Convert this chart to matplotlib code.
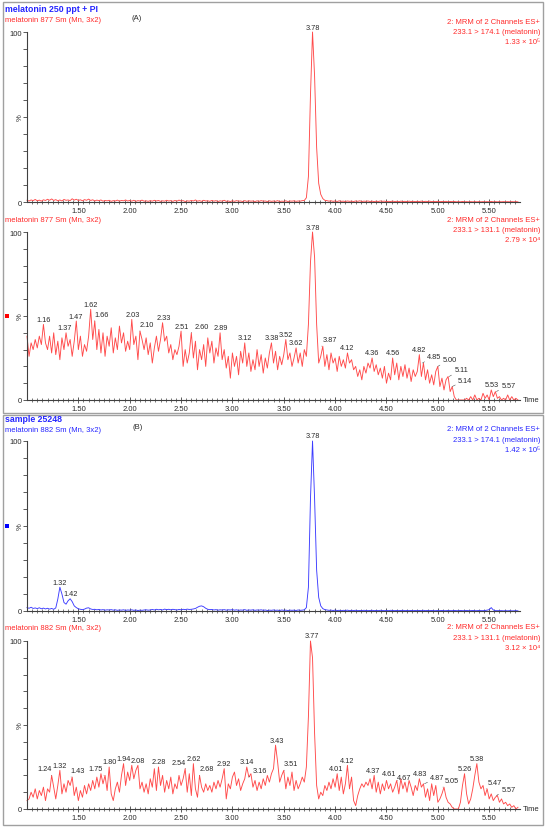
import numpy as np
import matplotlib
matplotlib.use('Agg')
import matplotlib.pyplot as plt
from matplotlib.patches import Rectangle

plt.rcParams['font.family'] = ['Liberation Sans', 'DejaVu Sans']

W, H = 550, 829

# retention time grid (min)
time = np.round(1.00 + 0.02 * np.arange(240), 2)

# (A) melatonin 250 ppt + PI, 233.1 > 174.1
a_174 = [
    1.0, 0.6, 1.2, 0.8, 1.5, 0.7, 1.1, 0.5, 1.3, 0.9,
    1.6, 1.0, 1.8, 0.9, 1.4, 0.7, 1.2, 0.6, 1.5, 1.0,
    1.2, 0.8, 1.9, 1.1, 1.6, 0.9, 1.3, 0.7, 1.4, 1.0,
    1.7, 0.9, 1.3, 0.6, 1.1, 0.8, 1.2, 0.5, 0.9, 0.7,
    1.0, 0.4, 0.8, 0.6, 1.1, 0.5, 0.9, 0.7, 1.2, 0.6,
    0.9, 0.5, 1.0, 0.4, 0.8, 0.6, 1.1, 0.5, 0.7, 0.4,
    0.8, 0.5, 1.0, 0.6, 0.9, 0.4, 0.7, 0.5, 1.0, 0.6,
    0.8, 0.4, 0.9, 0.5, 1.1, 0.6, 0.8, 0.3, 0.7, 0.5,
    0.9, 0.6, 1.2, 0.5, 0.8, 0.4, 1.0, 0.6, 0.7, 0.4,
    0.9, 0.5, 0.8, 0.3, 0.7, 0.5, 1.0, 0.4, 0.6, 0.3,
    0.7, 0.4, 0.8, 0.5, 0.6, 0.3, 0.8, 0.4, 0.7, 0.5,
    0.6, 0.3, 0.7, 0.4, 0.8, 0.5, 0.6, 0.3, 0.7, 0.4,
    0.6, 0.4, 0.8, 0.3, 0.5, 0.4, 0.7, 0.3, 0.6, 0.5,
    0.7, 0.4, 0.6, 0.5, 0.8, 0.9, 2.5, 15.0, 63.0, 100.0,
    74.0, 32.0, 11.0, 4.5, 2.0, 1.0, 0.8, 0.5, 0.7, 0.4,
    0.6, 0.3, 0.7, 0.4, 0.5, 0.3, 0.6, 0.4, 0.5, 0.3,
    0.6, 0.4, 0.7, 0.3, 0.5, 0.4, 0.6, 0.3, 0.5, 0.2,
    0.5, 0.3, 0.6, 0.4, 0.5, 0.2, 0.4, 0.3, 0.5, 0.3,
    0.4, 0.2, 0.5, 0.3, 0.4, 0.2, 0.5, 0.3, 0.4, 0.2,
    0.4, 0.3, 0.5, 0.2, 0.4, 0.3, 0.5, 0.2, 0.3, 0.2,
    0.4, 0.2, 0.3, 0.2, 0.4, 0.1, 0.3, 0.2, 0.3, 0.1,
    0.2, 0.1, 0.3, 0.1, 0.2, 0.1, 0.2, 0.1, 0.2, 0.1,
    0.2, 0.1, 0.2, 0.1, 0.2, 0.1, 0.3, 0.1, 0.2, 0.1,
    0.2, 0.1, 0.2, 0.1, 0.2, 0.1, 0.2, 0.1, 0.2, 0.1,
]

# (A) 233.1 > 131.1
a_131 = [
    38, 26, 34, 30, 36, 31, 38, 33, 45, 34,
    30, 38, 28, 40, 27, 35, 24, 37, 30, 40,
    32, 36, 26, 35, 47, 30, 38, 26, 33, 29,
    38, 54, 36, 47, 30, 42, 28, 40, 26, 38,
    32, 43, 28, 37, 30, 44, 34, 40, 29, 35,
    30, 48, 33, 38, 24, 41, 36, 30, 37, 27,
    34, 22, 31, 38, 29, 36, 46, 35, 38, 28,
    33, 24, 30, 27, 32, 41, 20, 30, 22, 28,
    40, 25, 35, 18, 30, 24, 33, 20, 37, 28,
    35, 22, 31, 26, 40, 24, 30, 19, 26, 13,
    28, 20, 26, 15, 29, 22, 34, 20, 28, 17,
    24, 18, 30, 20, 27, 16, 25, 19, 28, 34,
    22, 29, 18, 26, 21, 27, 36, 24, 28, 20,
    25, 31, 22, 28, 20, 30, 26, 45, 82, 100,
    85, 45, 22, 26, 32, 20, 27, 18, 28, 22,
    25, 17, 26, 20, 24, 19, 28, 22, 24, 18,
    20, 14, 18, 12, 20, 16, 22, 19, 25, 17,
    21, 15, 19, 13, 20, 10, 16, 12, 25, 15,
    22, 12, 20, 14, 21, 13, 19, 11, 18, 14,
    17, 27, 14, 22, 12, 18, 10, 15, 9, 17,
    20, 8, 13, 6, 12, 14, 5, 8, 2, 0,
    0, 0, 0, 0, 1, 0, 2, 0, 3, 0,
    1, 0, 4, 1, 3, 0, 6, 2, 5, 1,
    2, 0, 1, 0, 3, 0, 2, 0, 1, 0,
]

# (B) sample 25248, 233.1 > 174.1
b_174 = [
    2.0, 1.6, 2.2, 1.5, 1.8, 1.4, 1.9, 1.3, 1.7, 1.2,
    1.6, 1.1, 1.5, 1.0, 1.8, 7.0, 14.0, 10.0, 5.0, 4.0,
    6.0, 7.2, 5.5, 3.0, 2.0, 1.3, 1.0, 0.8, 1.1, 1.7,
    1.9, 1.2, 0.9, 1.0, 0.7, 0.9, 0.6, 0.8, 0.5, 0.7,
    0.6, 0.8, 0.5, 0.7, 0.4, 0.6, 0.5, 0.7, 0.4, 0.6,
    0.5, 0.7, 0.4, 0.6, 0.3, 0.5, 0.4, 0.6, 0.7, 0.5,
    0.6, 0.9, 0.6, 1.0, 0.7, 0.9, 0.6, 1.1, 0.8, 1.0,
    0.7, 1.0, 0.8, 0.6, 0.9, 0.7, 1.0, 0.8, 1.1, 0.9,
    1.0, 1.2, 1.5, 2.2, 2.8, 3.0, 2.5, 1.6, 1.0, 0.8,
    0.9, 0.6, 0.8, 0.5, 0.7, 0.6, 0.8, 0.5, 0.7, 0.6,
    0.8, 0.5, 0.7, 0.4, 0.6, 0.5, 0.8, 0.4, 0.6, 0.5,
    0.7, 0.4, 0.6, 0.5, 0.7, 0.4, 0.6, 0.3, 0.5, 0.4,
    0.6, 0.4, 0.5, 0.3, 0.6, 0.4, 0.5, 0.3, 0.5, 0.4,
    0.5, 0.3, 0.6, 0.4, 0.5, 0.7, 2.0, 14.0, 66.0, 100.0,
    66.0, 24.0, 8.0, 3.0, 1.4, 0.8, 0.6, 0.4, 0.5, 0.3,
    0.5, 0.3, 0.4, 0.2, 0.4, 0.3, 0.5, 0.2, 0.4, 0.3,
    0.4, 0.2, 0.3, 0.2, 0.4, 0.3, 0.2, 0.3, 0.4, 0.2,
    0.3, 0.2, 0.4, 0.3, 0.2, 0.3, 0.2, 0.4, 0.3, 0.2,
    0.3, 0.2, 0.3, 0.4, 0.2, 0.3, 0.2, 0.3, 0.2, 0.3,
    0.2, 0.3, 0.2, 0.4, 0.2, 0.3, 0.2, 0.3, 0.2, 0.2,
    0.3, 0.2, 0.3, 0.2, 0.2, 0.3, 0.2, 0.2, 0.3, 0.2,
    0.2, 0.3, 0.2, 0.2, 0.3, 0.2, 0.2, 0.3, 0.2, 0.2,
    0.3, 0.2, 0.2, 0.3, 0.5, 0.8, 2.0, 0.6, 0.2, 0.2,
    0.2, 0.2, 0.1, 0.2, 0.1, 0.2, 0.1, 0.1, 0.2, 0.1,
]

# (B) 233.1 > 131.1
b_131 = [
    5, 6, 10, 7, 12, 6, 11, 8, 13, 5,
    12, 10, 20, 13, 6, 14, 23, 9, 15, 10,
    17, 14, 19, 8, 13, 5, 11, 7, 14, 9,
    15, 11, 17, 12, 19, 13, 21, 15, 20, 11,
    25, 9, 5, 12, 16, 10, 20, 27, 14, 22,
    17, 26, 18, 23, 26, 12, 16, 10, 15, 9,
    18, 13, 24, 11, 25, 14, 20, 10, 17, 12,
    19, 9, 15, 12, 20, 14, 18, 24, 10, 21,
    8, 27, 12, 7, 20, 13, 10, 15, 11, 14,
    10, 16, 12, 17, 13, 18, 24, 6, 15, 12,
    19, 22, 14, 18, 11, 15, 18, 25, 19, 21,
    13, 17, 11, 16, 12, 18, 14, 20, 16, 21,
    24, 38, 28, 16, 20, 23, 12, 19, 14, 22,
    11, 17, 12, 15, 19, 16, 25, 55, 100, 90,
    45, 14, 6, 10, 8, 14, 11, 16, 12, 18,
    13, 21, 11, 19, 9, 15, 26, 12, 19, 5,
    2, 8, 12, 15, 13, 16, 14, 18, 12, 20,
    10, 16, 9, 15, 11, 17, 12, 15, 10, 13,
    17, 9, 18, 12, 16, 10, 17, 13, 8, 14,
    11, 18, 13, 15, 7, 12, 5, 15, 8, 14,
    4, 6, 9, 13, 7, 4, 3, 1, 0, 0,
    0, 4, 14, 21, 9, 3, 6, 12, 20, 27,
    16, 12, 14, 8, 12, 6, 9, 5, 7, 8,
    4, 6, 3, 4, 2, 3, 1, 2, 0, 1,
]

# labelled peaks (retention times)
peaks_a_174 = ['3.78']
peaks_a_131 = ['1.16', '1.37', '1.47', '1.62', '1.66', '2.03', '2.10', '2.33',
               '2.51', '2.60', '2.89', '3.12', '3.38', '3.52', '3.62', '3.78',
               '3.87', '4.12', '4.36', '4.56', '4.82', '4.85', '5.00', '5.11',
               '5.14', '5.53', '5.57']
peaks_b_174 = ['1.32', '1.42', '3.78']
peaks_b_131 = ['1.24', '1.32', '1.43', '1.75', '1.80', '1.94', '2.08', '2.28',
               '2.54', '2.62', '2.68', '2.92', '3.14', '3.16', '3.43', '3.51',
               '3.77', '4.01', '4.12', '4.37', '4.61', '4.67', '4.83', '4.87',
               '5.05', '5.26', '5.38', '5.47', '5.57']

# horizontal shift (px) of labels that use a leader line
shift_a_131 = {'1.66': 7, '2.10': 7, '2.60': 10, '3.87': 8, '4.85': 12,
               '5.00': 12, '5.11': 12, '5.14': 13, '5.57': 12}
shift_b_131 = {'1.24': -7, '1.43': 6, '1.75': -8, '2.54': -6, '2.68': 7,
               '3.16': 11, '3.51': 6, '4.61': -9, '4.87': 13, '5.05': 9,
               '5.47': 9, '5.57': 12}

RED = '#ff2a2a'
BLUE = '#2626ff'
RED_LINE = '#ff4a4a'
BLUE_LINE = '#3c3cff'
DARK = '#2a2a2a'

fig = plt.figure(figsize=(W / 100, H / 100), dpi=100)


def fx(px):
    return px / W


def fy(py):
    return 1 - py / H


def panel(values, color, top, bottom, peaks, shifts, show_time):
    ax = fig.add_axes([fx(27), fy(bottom), fx(520) - fx(27), (bottom - top) / H])
    ax.plot(time, values, color=color, lw=0.65, clip_on=False)
    ax.set_xlim(1.0, 5.8)
    ax.set_ylim(0, 100)
    for s in ['top', 'right']:
        ax.spines[s].set_visible(False)
    for s in ['left', 'bottom']:
        ax.spines[s].set_color('#404040')
        ax.spines[s].set_linewidth(0.8)
    ax.set_yticks([0, 100])
    ax.set_yticks(np.arange(10, 100, 10), minor=True)
    ax.set_xticks(np.arange(1.5, 5.51, 0.5))
    ax.set_xticklabels(['%.2f' % t for t in np.arange(1.5, 5.51, 0.5)])
    ax.set_xticks(np.arange(1.05, 5.76, 0.05), minor=True)
    ax.tick_params(axis='y', which='both', direction='out', length=3, width=0.6,
                   color='#404040', labelsize=5.5, labelcolor=DARK, pad=0.5)
    ax.tick_params(axis='x', which='major', direction='inout', length=4, width=0.6,
                   color='#404040', labelsize=5.5, labelcolor=DARK, pad=1.5)
    ax.tick_params(axis='x', which='minor', direction='inout', length=2.5, width=0.5,
                   color='#404040')
    ax.text(-0.013, 0.5, '%', transform=ax.transAxes, rotation=90, fontsize=5.5,
            color=DARK, ha='center', va='center')
    v = np.array(values, dtype=float)
    for lab in peaks:
        t = float(lab)
        y = v[np.abs(time - t) <= 0.0125].max()
        dx = shifts.get(lab, 0)
        if dx:
            ax.annotate(lab, xy=(t, y), xytext=(dx * 0.72, 3 * 0.72),
                        textcoords='offset points', ha='center', va='bottom',
                        fontsize=5.3, color=DARK, annotation_clip=False,
                        arrowprops=dict(arrowstyle='-', color='#505050', lw=0.4,
                                        shrinkA=0, shrinkB=0,
                                        relpos=(0, 0) if dx > 0 else (1, 0)))
        else:
            ax.annotate(lab, xy=(t, y), xytext=(0, 1.5 * 0.72),
                        textcoords='offset points', ha='center', va='bottom',
                        fontsize=5.3, color=DARK, annotation_clip=False)
    if show_time:
        ax.text(1.006, 0, 'Time', transform=ax.transAxes, fontsize=5.5,
                color=DARK, ha='left', va='center')
    return ax


panel(a_174, RED_LINE, 33, 203, peaks_a_174, {}, False)
panel(a_131, RED_LINE, 233, 401, peaks_a_131, shift_a_131, True)
panel(b_174, BLUE_LINE, 442, 612, peaks_b_174, {}, False)
panel(b_131, RED_LINE, 642, 810, peaks_b_131, shift_b_131, True)

# header texts
fig.text(fx(5), fy(10), 'melatonin 250 ppt + PI', color=BLUE, fontsize=6.3,
         fontweight='bold', ha='left', va='center')
fig.text(fx(5), fy(21), 'melatonin 877 Sm (Mn, 3x2)', color=RED, fontsize=5.5,
         ha='left', va='center')
fig.text(fx(137), fy(18), '(A)', color=DARK, fontsize=5.5, ha='center', va='center')
fig.text(fx(5), fy(220), 'melatonin 877 Sm (Mn, 3x2)', color=RED, fontsize=5.5,
         ha='left', va='center')
fig.text(fx(5), fy(420), 'sample 25248', color=BLUE, fontsize=6.3,
         fontweight='bold', ha='left', va='center')
fig.text(fx(5), fy(431), 'melatonin 882 Sm (Mn, 3x2)', color=BLUE, fontsize=5.5,
         ha='left', va='center')
fig.text(fx(138), fy(428), '(B)', color=DARK, fontsize=5.5, ha='center', va='center')
fig.text(fx(5), fy(629), 'melatonin 882 Sm (Mn, 3x2)', color=RED, fontsize=5.5,
         ha='left', va='center')

channels = [
    (22, RED, ['2: MRM of 2 Channels ES+', '233.1 > 174.1 (melatonin)', '1.33 × 10⁵']),
    (220, RED, ['2: MRM of 2 Channels ES+', '233.1 > 131.1 (melatonin)', '2.79 × 10⁴']),
    (430, BLUE, ['2: MRM of 2 Channels ES+', '233.1 > 174.1 (melatonin)', '1.42 × 10⁵']),
    (628, RED, ['2: MRM of 2 Channels ES+', '233.1 > 131.1 (melatonin)', '3.12 × 10⁴']),
]
for y0, col, lines in channels:
    for i, s in enumerate(lines):
        fig.text(fx(540), fy(y0 + 10.5 * i), s, color=col, fontsize=5.5,
                 ha='right', va='center')

# trace markers
fig.add_artist(Rectangle((fx(5), fy(319)), 4 / W, 4 / H, transform=fig.transFigure,
                         color='#ff0000', lw=0))
fig.add_artist(Rectangle((fx(5), fy(529)), 4 / W, 4 / H, transform=fig.transFigure,
                         color='#0000ff', lw=0))

# frames around the two samples
fig.add_artist(Rectangle((fx(3), fy(414)), 540 / W, 411 / H, transform=fig.transFigure,
                         fill=False, ec='#a0a0a0', lw=1))
fig.add_artist(Rectangle((fx(3), fy(826)), 540 / W, 410 / H, transform=fig.transFigure,
                         fill=False, ec='#a0a0a0', lw=1))

fig.savefig('out.png', dpi=100)
